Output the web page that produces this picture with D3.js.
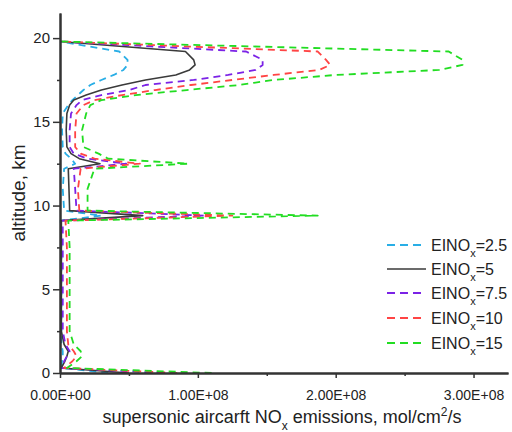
<!DOCTYPE html>
<html><head><meta charset="utf-8">
<script src="https://cdn.jsdelivr.net/npm/d3@7"></script>
<style>body{margin:0;background:#fff}svg{display:block;font-family:Arial,"Liberation Sans",sans-serif}</style>
</head><body>
<svg id="chart" width="512" height="432"></svg>
<script>
// altitude levels, km
const altitudes = [0, 0.3, 0.7, 1.0, 1.3, 1.7, 2.5, 5, 7.5, 9.1, 9.4, 9.7, 11, 12.2, 12.5, 12.8, 13.1, 13.5, 14.5, 15.5, 16.0, 16.3, 16.6, 16.9, 17.2, 17.5, 17.8, 18.1, 18.4, 18.7, 19.2, 19.8];
// emissions in units of 1E+08 mol/cm2/s
const ei2_5 = [0.35, 0.01, 0.015, 0.02, 0.02, 0.01, 0.01, 0.01, 0.01, 0.005, 0.30, 0.03, 0.02, 0.03, 0.11, 0.08, 0.04, 0.02, 0.015, 0.02, 0.06, 0.09, 0.13, 0.17, 0.22, 0.30, 0.39, 0.46, 0.49, 0.49, 0.43, 0.0];
const ei5   = [0.50, 0.01, 0.035, 0.05, 0.06, 0.03, 0.01, 0.01, 0.01, 0.01, 0.60, 0.07, 0.065, 0.06, 0.29, 0.14, 0.08, 0.05, 0.045, 0.05, 0.07, 0.10, 0.19, 0.30, 0.45, 0.62, 0.84, 0.94, 0.98, 0.97, 0.91, 0.0];
const ei7_5 = [0.75, 0.01, 0.03, 0.05, 0.07, 0.04, 0.02, 0.02, 0.02, 0.02, 1.05, 0.12, 0.11, 0.10, 0.48, 0.20, 0.10, 0.07, 0.07, 0.08, 0.12, 0.16, 0.30, 0.50, 0.62, 0.97, 1.22, 1.42, 1.47, 1.47, 1.35, 0.0];
const ei10  = [0.85, 0.03, 0.09, 0.12, 0.10, 0.06, 0.05, 0.05, 0.05, 0.04, 1.25, 0.14, 0.13, 0.15, 0.58, 0.25, 0.15, 0.11, 0.11, 0.12, 0.17, 0.25, 0.45, 0.69, 0.95, 1.25, 1.55, 1.88, 1.96, 1.93, 1.87, 0.0];
const ei15  = [1.10, 0.05, 0.12, 0.16, 0.15, 0.10, 0.07, 0.07, 0.07, 0.06, 1.87, 0.20, 0.20, 0.25, 0.93, 0.35, 0.28, 0.17, 0.16, 0.19, 0.22, 0.30, 0.55, 0.92, 1.30, 1.55, 2.00, 2.75, 2.92, 2.92, 2.82, 0.0];

const seriesLabels = ["2.5", "5", "7.5", "10", "15"];
const seriesColors = ["#29aee6", "#3a3a3a", "#7b22e6", "#ff4444", "#22dd22"];
const seriesValues = [ei2_5, ei5, ei7_5, ei10, ei15];

const xTicks = [0, 1, 2, 3];
const xTickLabels = ["0.00E+00", "1.00E+08", "2.00E+08", "3.00E+08"];
const yTicks = [0, 5, 10, 15, 20];

const svg = d3.select("#chart");
const x = d3.scaleLinear().domain([0, 3.25]).range([60, 508]);
const y = d3.scaleLinear().domain([0, 21.5]).range([373, 13]);

// series lines
const line = d3.line().x(d => x(d[1])).y(d => y(d[0])).curve(d3.curveLinear);
seriesValues.forEach((vals, i) => {
  const pts = altitudes.map((a, j) => [a, vals[j]]);
  svg.append("path").datum(pts)
    .attr("d", line)
    .attr("fill", "none")
    .attr("stroke", seriesColors[i])
    .attr("stroke-width", i === 1 ? 1.6 : 1.8)
    .attr("stroke-dasharray", i === 1 ? null : "7,5")
    .attr("stroke-linejoin", "round");
});

// axes
const axisColor = "#333";
const xAxis = svg.append("g").attr("transform", "translate(0,373)")
  .call(d3.axisBottom(x).tickValues(xTicks).tickFormat((d, i) => xTickLabels[i]).tickSize(5).tickPadding(12).tickSizeOuter(0));
const xMinor = svg.append("g").attr("transform", "translate(0,373)")
  .call(d3.axisBottom(x).tickValues([0.5, 1.5, 2.5]).tickFormat("").tickSize(3).tickSizeOuter(0));
const yAxis = svg.append("g").attr("transform", "translate(60,0)")
  .call(d3.axisLeft(y).tickValues(yTicks).tickSize(7).tickPadding(3).tickSizeOuter(0));
const yMinor = svg.append("g").attr("transform", "translate(60,0)")
  .call(d3.axisLeft(y).tickValues([2.5, 7.5, 12.5, 17.5]).tickFormat("").tickSize(3).tickSizeOuter(0));
[xAxis, xMinor, yAxis, yMinor].forEach(g => {
  g.select(".domain").attr("stroke", axisColor).attr("stroke-width", 2);
  g.selectAll(".tick line").attr("stroke", axisColor).attr("stroke-width", 1.5);
  g.selectAll("text").attr("fill", "#222").style("font-family", "Arial, 'Liberation Sans', sans-serif");
});
xAxis.selectAll("text").style("font-size", "14px");
yAxis.selectAll("text").style("font-size", "15px");

// axis titles
const xt = svg.append("text").attr("x", 282).attr("y", 423).attr("text-anchor", "middle")
  .style("font-size", "18px").attr("fill", "#222");
xt.append("tspan").text("supersonic aircarft NO");
xt.append("tspan").attr("baseline-shift", "sub").style("font-size", "12px").text("x");
xt.append("tspan").text(" emissions, mol/cm");
xt.append("tspan").attr("baseline-shift", "super").style("font-size", "12px").text("2");
xt.append("tspan").text("/s");

svg.append("text").attr("transform", "translate(25,193) rotate(-90)").attr("text-anchor", "middle")
  .style("font-size", "19px").attr("fill", "#222").text("altitude, km");

// legend
const legendY = [245, 269, 293, 318, 343];
seriesLabels.forEach((lab, i) => {
  const g = svg.append("g").attr("transform", `translate(0,${legendY[i]})`);
  g.append("line").attr("x1", 387).attr("x2", 426).attr("y1", 0).attr("y2", 0)
    .attr("stroke", seriesColors[i]).attr("stroke-width", i === 1 ? 1.6 : 1.8)
    .attr("stroke-dasharray", i === 1 ? null : "8,5");
  const t = g.append("text").attr("x", 431).attr("y", 6).style("font-size", "16px").attr("fill", "#222");
  t.append("tspan").text("EINO");
  t.append("tspan").attr("baseline-shift", "sub").style("font-size", "11px").text("x");
  t.append("tspan").text("=" + lab);
});
</script>
</body></html>
